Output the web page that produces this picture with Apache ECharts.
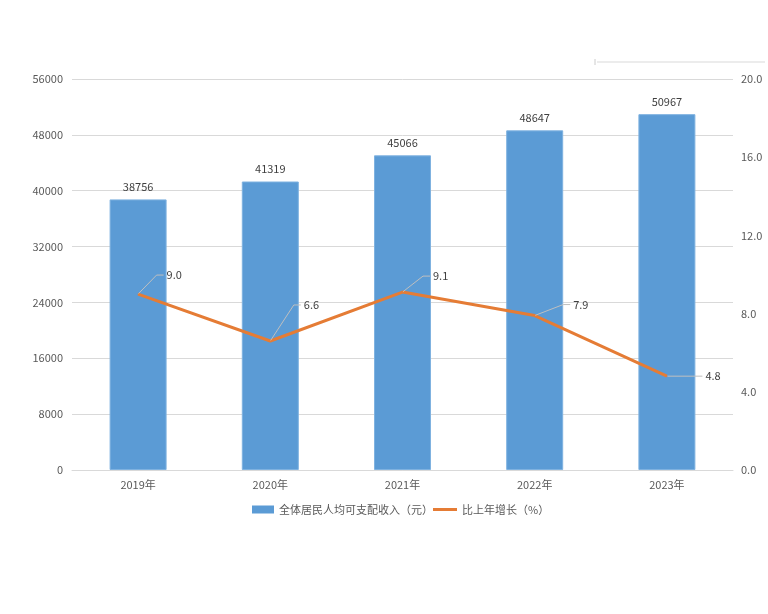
<!DOCTYPE html>
<html>
<head>
<meta charset="utf-8">
<script src="https://cdn.jsdelivr.net/npm/echarts@6/dist/echarts.min.js"></script>
<style>
html, body { margin: 0; padding: 0; background: #fff; }
#main { width: 768px; height: 614px; }
</style>
</head>
<body>
<div id="main"></div>
<script>
var years = ['2019年', '2020年', '2021年', '2022年', '2023年'];
var income = [38756, 41319, 45066, 48647, 50967];
var growth = [9.0, 6.6, 9.1, 7.9, 4.8];
// where the leader line bends, relative to each point
var labelShift = [[13, -19], [18, -36], [15, -16], [23, -11], [20, 0]];

var font = "'Noto Sans CJK SC', 'Microsoft YaHei', sans-serif";
var legendText = { fontSize: 11, color: '#595959', fontFamily: font };
var orange = '#E57C35';

option = {
    backgroundColor: '#fff',
    textStyle: { fontFamily: font },
    legend: [
        {
            top: 499,
            left: 247,
            itemWidth: 22,
            itemHeight: 8,
            textStyle: legendText,
            data: [{ name: '全体居民人均可支配收入（元）', icon: 'rect', itemStyle: { borderWidth: 0 } }]
        },
        {
            top: 499,
            left: 428,
            itemWidth: 24,
            itemHeight: 3,
            textStyle: legendText,
            data: [{ name: '比上年增长（%）', icon: 'rect', itemStyle: { color: orange, borderWidth: 0 } }]
        }
    ],
    grid: {
        left: 72,
        right: 35,
        top: 79,
        bottom: 144
    },
    xAxis: {
        type: 'category',
        data: years,
        axisLine: { lineStyle: { color: '#d9d9d9' } },
        axisTick: { show: false },
        axisLabel: { color: '#595959', fontSize: 11, margin: 9 }
    },
    yAxis: [
        {
            type: 'value',
            min: 0,
            max: 56000,
            interval: 8000,
            axisLine: { show: false },
            axisTick: { show: false },
            axisLabel: {
                color: '#595959',
                fontSize: 11,
                margin: 9,
                formatter: function (v) { return String(v); }
            },
            splitLine: { lineStyle: { color: '#d9d9d9' } }
        },
        {
            type: 'value',
            min: 0,
            max: 20,
            interval: 4,
            axisLine: { show: false },
            axisTick: { show: false },
            splitLine: { show: false },
            axisLabel: {
                color: '#595959',
                fontSize: 11,
                margin: 8,
                formatter: function (v) { return v.toFixed(1); }
            }
        }
    ],
    series: [
        {
            name: '全体居民人均可支配收入（元）',
            type: 'bar',
            data: income,
            barWidth: 57,
            itemStyle: { color: '#5B9BD5', borderColor: '#7FB2E0', borderWidth: 1 },
            label: {
                show: true,
                position: 'top',
                distance: 7,
                color: '#404040',
                fontSize: 11
            }
        },
        {
            name: '比上年增长（%）',
            type: 'line',
            yAxisIndex: 1,
            data: growth,
            symbol: 'circle',
            symbolSize: 1,
            showSymbol: true,
            lineStyle: { color: orange, width: 3 },
            itemStyle: { color: orange },
            label: {
                show: true,
                position: 'right',
                distance: 5,
                lineHeight: 1,
                formatter: function (p) {
                    return (p.dataIndex === 4 ? '' : '{l|}') + '{v|' + p.value.toFixed(1) + '}';
                },
                rich: {
                    l: { width: 7, height: 1, lineHeight: 1, backgroundColor: '#bfbfbf' },
                    v: { color: '#404040', fontSize: 11, lineHeight: 1, padding: [0, 0, 0, 3] }
                }
            },
            labelLine: {
                show: true,
                lineStyle: { color: '#bfbfbf', width: 1 }
            },
            labelLayout: function (params) {
                var s = labelShift[params.dataIndex];
                var dx = params.dataIndex === 4 ? s[0] + 10 : s[0];
                return { dx: dx, dy: s[1] };
            }
        }
    ],
    graphic: [
        {
            type: 'line',
            shape: { x1: 597, y1: 62, x2: 765, y2: 62 },
            style: { stroke: '#ececec', lineWidth: 2 }
        },
        {
            type: 'line',
            shape: { x1: 595, y1: 59, x2: 595, y2: 65 },
            style: { stroke: '#cccccc', lineWidth: 1 }
        }
    ]
};
echarts.init(document.getElementById('main')).setOption(option);
</script>
</body>
</html>
